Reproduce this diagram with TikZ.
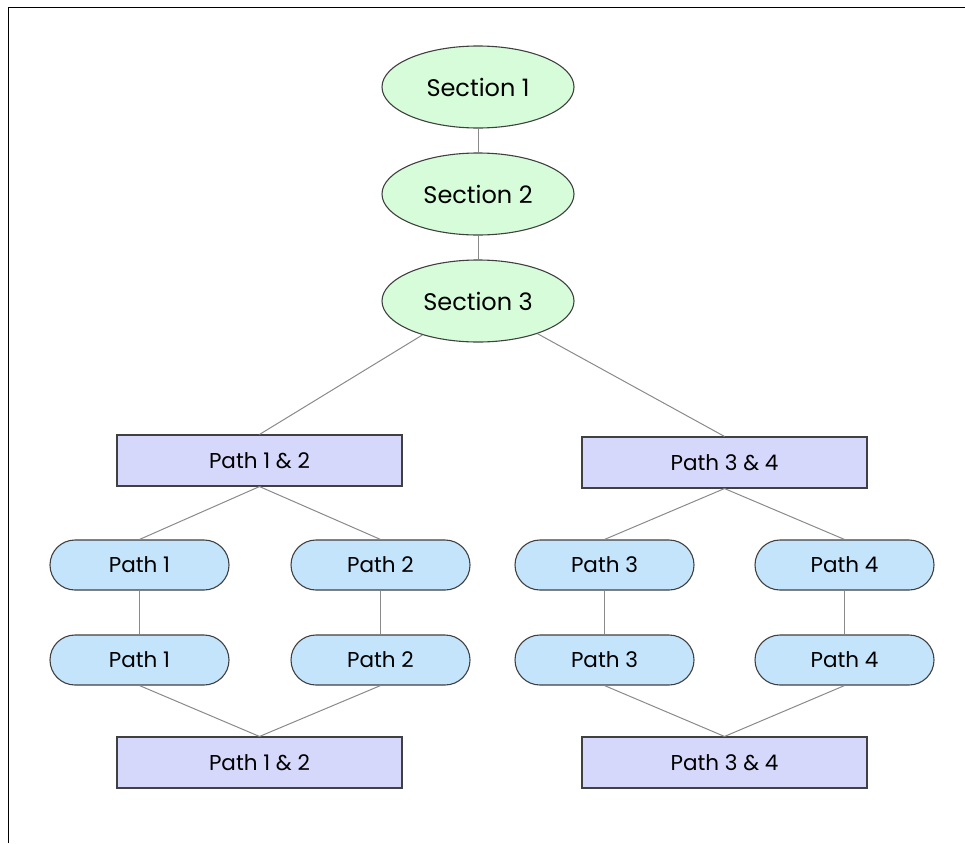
\documentclass[tikz,border=0pt]{standalone}
\usepackage{fontspec}
\setmainfont{Poppins}
\usetikzlibrary{shapes.geometric}
\definecolor{secfill}{HTML}{D6FCDA}
\definecolor{boxfill}{HTML}{D6D8FB}
\definecolor{pillfill}{HTML}{C4E4FC}
\definecolor{edgecol}{HTML}{404040}
\definecolor{linkcol}{HTML}{8A8A8A}
\tikzset{
  section/.style={ellipse, draw=edgecol, fill=secfill, line width=1.1pt,
    minimum width=192pt, minimum height=82pt, inner sep=0pt,
    font=\fontsize{24}{28}\selectfont},
  mergebox/.style={rectangle, draw=edgecol, fill=boxfill, line width=1.1pt,
    minimum width=285pt, minimum height=51pt, inner sep=0pt,
    font=\fontsize{21.5}{25}\selectfont},
  pathpill/.style={rectangle, rounded corners=25pt, draw=edgecol, fill=pillfill,
    line width=1.1pt, minimum width=179pt, minimum height=50pt, inner sep=0pt,
    font=\fontsize{21.5}{25}\selectfont},
  link/.style={draw=linkcol, line width=1pt},
  frame/.style={draw=black, line width=1pt}
}
\begin{document}
\begin{tikzpicture}[x=1pt, y=-1pt]
  \useasboundingbox (0,0) rectangle (965,843);
  % outer frame: top and left edges
  \coordinate (fa) at (8,843);
  \coordinate (fb) at (8,8);
  \coordinate (fc) at (965,8);
  \draw[frame] (fa) -- (fb) -- (fc);

  % sections
  \node[section] (s1) at (478,87)  {Section 1};
  \node[section] (s2) at (478,194) {Section 2};
  \node[section] (s3) at (478,301) {Section 3};

  % split boxes
  \node[mergebox] (a12) at (259.5,460.5) {Path 1 \& 2};
  \node[mergebox] (a34) at (724.5,462.5) {Path 3 \& 4};

  % paths, first row
  \node[pathpill] (p1a) at (139.5,565) {Path 1};
  \node[pathpill] (p2a) at (380.5,565) {Path 2};
  \node[pathpill] (p3a) at (604.5,565) {Path 3};
  \node[pathpill] (p4a) at (844.5,565) {Path 4};

  % paths, second row
  \node[pathpill] (p1b) at (139.5,660) {Path 1};
  \node[pathpill] (p2b) at (380.5,660) {Path 2};
  \node[pathpill] (p3b) at (604.5,660) {Path 3};
  \node[pathpill] (p4b) at (844.5,660) {Path 4};

  % join boxes
  \node[mergebox] (b12) at (259.5,762.5) {Path 1 \& 2};
  \node[mergebox] (b34) at (724.5,762.5) {Path 3 \& 4};

  % connectors
  \draw[link] (s1) -- (s2);
  \draw[link] (s2) -- (s3);
  \draw[link] (s3) -- (a12.north);
  \draw[link] (s3) -- (a34.north);
  \draw[link] (a12.south) -- (p1a.north);
  \draw[link] (a12.south) -- (p2a.north);
  \draw[link] (a34.south) -- (p3a.north);
  \draw[link] (a34.south) -- (p4a.north);
  \draw[link] (p1a) -- (p1b);
  \draw[link] (p2a) -- (p2b);
  \draw[link] (p3a) -- (p3b);
  \draw[link] (p4a) -- (p4b);
  \draw[link] (p1b.south) -- (b12.north);
  \draw[link] (p2b.south) -- (b12.north);
  \draw[link] (p3b.south) -- (b34.north);
  \draw[link] (p4b.south) -- (b34.north);
\end{tikzpicture}
\end{document}
